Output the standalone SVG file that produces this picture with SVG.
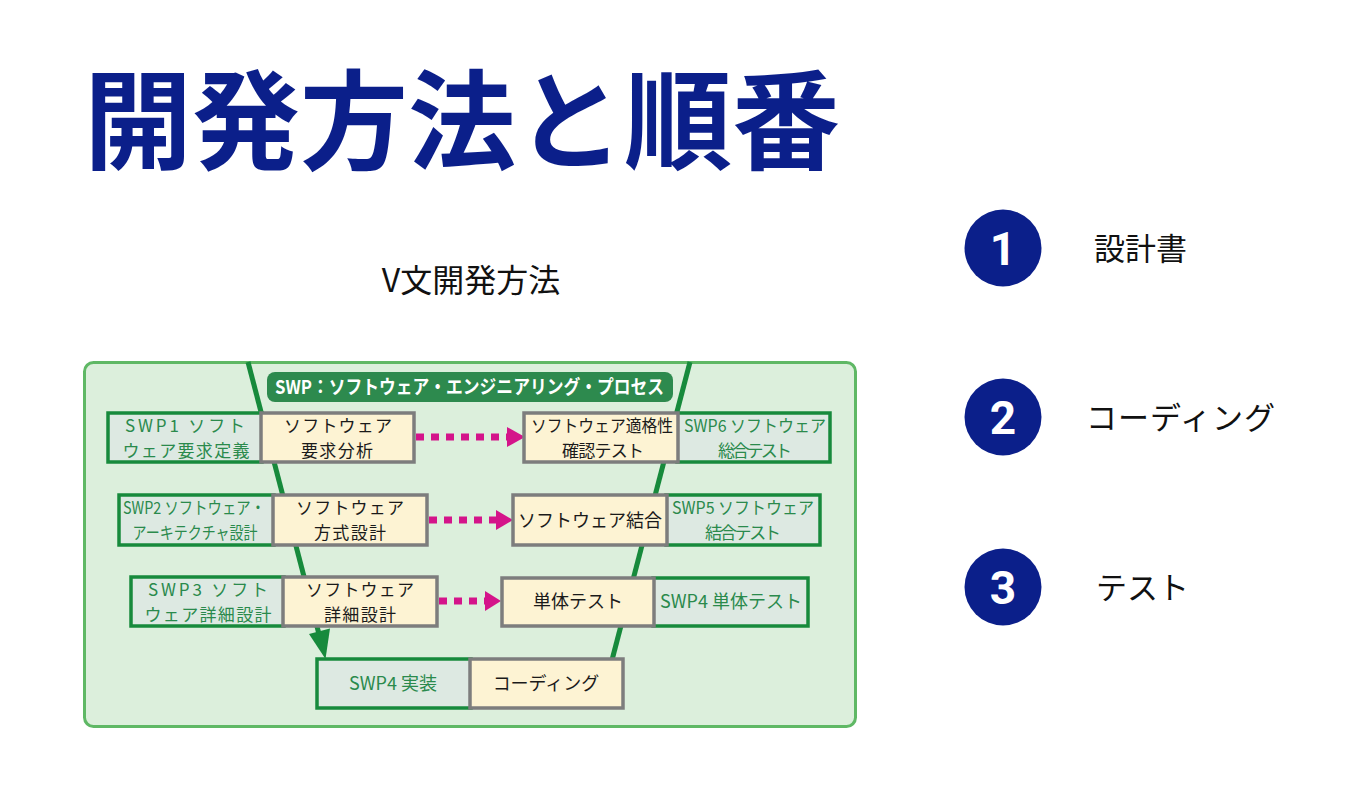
<svg xmlns="http://www.w3.org/2000/svg" width="1346" height="795" viewBox="0 0 1346 795">
<style>
text { font-family: "Noto Sans CJK JP", "Noto Sans", "Liberation Sans", sans-serif; }
.title { font-size: 108px; font-weight: 700; fill: #0b1f8a; }
.sub { font-size: 32px; fill: #111; text-anchor: middle; }
.num { font-family: Roboto, "Liberation Sans", sans-serif; font-size: 46px; font-weight: 700; fill: #fff; text-anchor: middle; }
.item { font-size: 31px; fill: #111; }
.gbox { fill: #dde9e2; stroke: #178a3c; stroke-width: 3.5; }
.ybox { fill: #fdf3d3; stroke: #7d7d7d; stroke-width: 3.5; }
.gt { font-size: 18px; fill: #2a8a4c; text-anchor: middle; }
.yt { font-size: 18px; fill: #1a1a1a; text-anchor: middle; }
.g2 { font-size: 17px; fill: #2a8a4c; text-anchor: middle; }
.y2 { font-size: 17px; fill: #1a1a1a; text-anchor: middle; }
.vline { stroke: #178a3c; stroke-width: 5; fill: none; }
.dash { stroke: #d4148a; stroke-width: 7; stroke-dasharray: 8 7; fill: none; }
.ahead { fill: #d4148a; }
.circ { fill: #0b1f8a; }
</style>

<text class="title" x="84" y="161">開発方法と順番</text>
<text class="sub" x="471" y="292">V文開発方法</text>

<g id="list">
  <g id="item1">
    <circle class="circ" cx="1003" cy="248" r="38.5"/>
    <text class="num" x="1003" y="265">1</text>
    <text class="item" x="1094" y="260">設計書</text>
  </g>
  <g id="item2">
    <circle class="circ" cx="1003" cy="417" r="38.5"/>
    <text class="num" x="1003" y="434">2</text>
    <text class="item" x="1086" y="429" textLength="189" lengthAdjust="spacing">コーディング</text>
  </g>
  <g id="item3">
    <circle class="circ" cx="1003" cy="587" r="38.5"/>
    <text class="num" x="1003" y="604">3</text>
    <text class="item" x="1096" y="599">テスト</text>
  </g>
</g>

<g id="panel">
  <rect x="84.5" y="362.5" width="771" height="364" rx="9" fill="#dcefdc" stroke="#5fb865" stroke-width="3"/>
</g>

<g id="connectors">
  <line class="vline" x1="248" y1="362" x2="319.5" y2="636"/>
  <polygon fill="#178a3c" points="325.5,659 309,634 330,628.5"/>
  <line class="vline" x1="690" y1="362" x2="612" y2="660"/>
  <line class="dash" x1="416" y1="437" x2="508" y2="437"/>
  <polygon class="ahead" points="507,427 525,437 507,447"/>
  <line class="dash" x1="429" y1="520" x2="496" y2="520"/>
  <polygon class="ahead" points="496,510 513,520 496,530"/>
  <line class="dash" x1="439" y1="601" x2="485" y2="601"/>
  <polygon class="ahead" points="485,591 501,601 485,611"/>
</g>

<g id="banner">
  <rect x="267" y="372" width="406" height="30" rx="8" fill="#2d8a4e"/>
  <text x="275" y="394" font-size="19" font-weight="700" fill="#fff" textLength="389" lengthAdjust="spacingAndGlyphs">SWP：ソフトウェア・エンジニアリング・プロセス</text>
</g>

<g id="swp1">
  <rect class="gbox" x="108" y="413" width="154" height="49"/>
  <text class="g2"><tspan x="185" y="431.5" textLength="120" lengthAdjust="spacing">SWP1 ソフト</tspan><tspan x="186" y="456.5" textLength="127" lengthAdjust="spacing">ウェア要求定義</tspan></text>
</g>
<g id="req">
  <rect class="ybox" x="261" y="413" width="153" height="49"/>
  <text class="y2"><tspan x="338" y="431.5" textLength="108" lengthAdjust="spacing">ソフトウェア</tspan><tspan x="337" y="456.5" textLength="72" lengthAdjust="spacing">要求分析</tspan></text>
</g>
<g id="qual">
  <rect class="gbox" x="677" y="413" width="153" height="49"/>
  <rect class="ybox" x="524" y="413" width="154" height="49"/>
  <text class="y2" font-size="16"><tspan x="602" y="431.5" textLength="142" lengthAdjust="spacingAndGlyphs">ソフトウェア適格性</tspan><tspan x="603" y="456.5" textLength="82" lengthAdjust="spacing">確認テスト</tspan></text>
</g>
<g id="swp6">
  <text class="g2" font-size="16"><tspan x="755" y="431.5" textLength="142" lengthAdjust="spacingAndGlyphs">SWP6 ソフトウェア</tspan><tspan x="755" y="456.5" textLength="74" lengthAdjust="spacing">総合テスト</tspan></text>
</g>

<g id="swp2">
  <rect class="gbox" x="119" y="495" width="155" height="50"/>
  <text class="g2" font-size="15.5"><tspan x="194" y="514" textLength="142" lengthAdjust="spacingAndGlyphs">SWP2 ソフトウェア・</tspan><tspan x="195" y="539" textLength="125" lengthAdjust="spacingAndGlyphs">アーキテクチャ設計</tspan></text>
</g>
<g id="arch">
  <rect class="ybox" x="273" y="495" width="154" height="50"/>
  <text class="y2"><tspan x="350" y="514" textLength="108" lengthAdjust="spacing">ソフトウェア</tspan><tspan x="350" y="539" textLength="72" lengthAdjust="spacing">方式設計</tspan></text>
</g>
<g id="integ">
  <rect class="gbox" x="666" y="495" width="154" height="50"/>
  <rect class="ybox" x="513" y="495" width="154" height="50"/>
  <text class="yt" x="590" y="527">ソフトウェア結合</text>
</g>
<g id="swp5">
  <text class="g2" font-size="16"><tspan x="743" y="514" textLength="142" lengthAdjust="spacingAndGlyphs">SWP5 ソフトウェア</tspan><tspan x="743" y="539" textLength="76" lengthAdjust="spacing">結合テスト</tspan></text>
</g>

<g id="swp3">
  <rect class="gbox" x="131" y="577" width="153" height="49"/>
  <text class="g2"><tspan x="208" y="595.5" textLength="120" lengthAdjust="spacing">SWP3 ソフト</tspan><tspan x="208" y="620.5" textLength="127" lengthAdjust="spacing">ウェア詳細設計</tspan></text>
</g>
<g id="detail">
  <rect class="ybox" x="283" y="577" width="154" height="49"/>
  <text class="y2"><tspan x="360" y="595.5" textLength="108" lengthAdjust="spacing">ソフトウェア</tspan><tspan x="360" y="620.5" textLength="72" lengthAdjust="spacing">詳細設計</tspan></text>
</g>
<g id="unit">
  <rect class="gbox" x="653" y="578" width="155" height="48"/>
  <rect class="ybox" x="502" y="578" width="152" height="48"/>
  <text class="yt" x="578" y="608">単体テスト</text>
</g>
<g id="swp4test">
  <text class="gt" x="731" y="608" font-size="17.5">SWP4 単体テスト</text>
</g>

<g id="swp4impl">
  <rect class="gbox" x="317" y="659" width="154" height="49"/>
  <text class="gt" x="393" y="690">SWP4 実装</text>
</g>
<g id="coding">
  <rect class="ybox" x="470" y="659" width="153" height="49"/>
  <text class="yt" x="546" y="690">コーディング</text>
</g>
</svg>
